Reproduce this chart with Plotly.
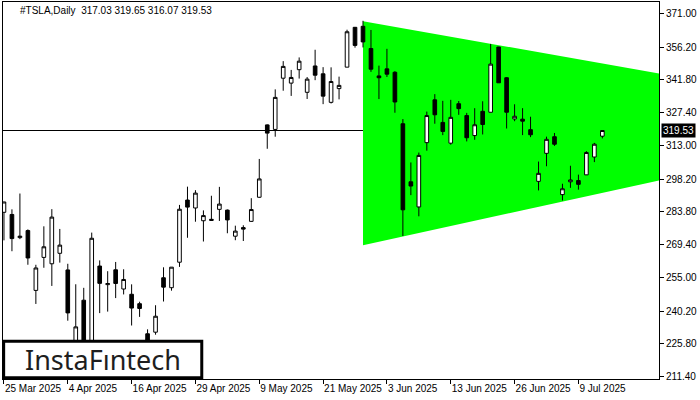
import datetime as dt
import plotly.graph_objects as go

# ---------------- data ----------------
dates = [
    "2025-03-25", "2025-03-26", "2025-03-27", "2025-03-28", "2025-03-31",
    "2025-04-01", "2025-04-02", "2025-04-03", "2025-04-04", "2025-04-07",
    "2025-04-08", "2025-04-09", "2025-04-10", "2025-04-11", "2025-04-14",
    "2025-04-15", "2025-04-16", "2025-04-17", "2025-04-21", "2025-04-22",
    "2025-04-23", "2025-04-24", "2025-04-25", "2025-04-28", "2025-04-29",
    "2025-04-30", "2025-05-01", "2025-05-02", "2025-05-05", "2025-05-06",
    "2025-05-07", "2025-05-08", "2025-05-09", "2025-05-12", "2025-05-13",
    "2025-05-14", "2025-05-15", "2025-05-16", "2025-05-19", "2025-05-20",
    "2025-05-21", "2025-05-22", "2025-05-23", "2025-05-27", "2025-05-28",
    "2025-05-29", "2025-05-30", "2025-06-02", "2025-06-03", "2025-06-04",
    "2025-06-05", "2025-06-06", "2025-06-09", "2025-06-10", "2025-06-11",
    "2025-06-12", "2025-06-13", "2025-06-16", "2025-06-17", "2025-06-18",
    "2025-06-20", "2025-06-23", "2025-06-24", "2025-06-25", "2025-06-26",
    "2025-06-27", "2025-06-30", "2025-07-01", "2025-07-02", "2025-07-03",
    "2025-07-07", "2025-07-08", "2025-07-09", "2025-07-10", "2025-07-11",
    "2025-07-14",
]
opens = [
    283.60, 282.66, 272.48, 275.58, 249.31, 263.80, 261.00, 265.60, 258.30, 223.78,
    245.00, 224.69, 260.00, 251.84, 258.36, 249.91, 247.61, 243.47, 230.26, 230.96,
    254.86, 250.50, 261.69, 288.98, 285.50, 279.90, 280.01, 284.90, 284.57, 273.11,
    276.88, 279.63, 290.21, 321.99, 320.00, 342.50, 340.34, 346.24, 336.30, 347.87,
    344.43, 331.90, 337.92, 347.35, 364.84, 365.29, 355.52, 343.50, 346.60, 345.10,
    322.49, 297.00, 285.96, 314.20, 333.00, 323.08, 313.97, 331.29, 326.09, 317.31,
    327.95, 327.54, 356.17, 342.70, 324.61, 324.51, 319.90, 297.20, 309.50, 316.80,
    291.37, 297.00, 297.55, 300.05, 307.89, 317.03,
]
highs = [
    288.20, 284.90, 291.85, 276.10, 260.56, 277.45, 284.99, 276.30, 261.00, 252.00,
    250.44, 274.69, 262.49, 257.74, 261.80, 258.59, 251.97, 244.34, 232.21, 242.79,
    259.45, 259.54, 286.85, 294.86, 293.32, 284.45, 290.87, 294.78, 284.85, 277.73,
    277.92, 289.80, 307.04, 322.21, 337.59, 350.00, 346.14, 351.62, 343.00, 354.99,
    347.35, 347.27, 343.18, 363.79, 365.00, 367.71, 363.68, 348.02, 355.40, 345.60,
    324.55, 305.50, 309.83, 327.83, 335.50, 332.56, 332.99, 332.47, 327.26, 329.32,
    332.36, 357.54, 356.26, 343.00, 331.05, 329.34, 325.58, 305.89, 316.83, 318.45,
    296.15, 304.05, 300.15, 310.48, 314.09, 319.65,
]
lows = [
    271.28, 266.51, 271.82, 260.57, 243.36, 259.25, 251.27, 261.51, 236.00, 214.25,
    217.80, 223.88, 239.33, 240.00, 245.93, 247.54, 233.89, 237.68, 222.79, 229.85,
    244.43, 249.20, 259.63, 272.42, 279.47, 270.78, 279.81, 279.81, 274.40, 271.35,
    271.00, 279.41, 290.00, 311.50, 316.80, 337.00, 334.72, 342.33, 333.37, 341.63,
    331.10, 331.39, 333.21, 347.32, 355.91, 356.00, 345.29, 333.33, 343.04, 327.33,
    273.21, 291.14, 281.85, 310.67, 322.50, 317.49, 313.30, 326.41, 314.74, 315.45,
    317.78, 327.48, 340.44, 320.40, 323.61, 317.50, 316.60, 293.21, 303.82, 312.76,
    288.77, 294.35, 293.55, 300.00, 305.65, 316.07,
]
closes = [
    288.14, 272.06, 273.13, 263.55, 259.16, 268.46, 281.50, 269.20, 239.43, 233.29,
    221.86, 272.20, 252.40, 252.31, 252.35, 254.11, 241.55, 241.37, 227.50, 237.97,
    250.74, 259.51, 284.95, 285.88, 292.03, 282.16, 280.52, 287.21, 280.26, 275.35,
    276.22, 284.82, 298.26, 318.38, 334.07, 347.68, 342.82, 349.98, 342.09, 343.82,
    334.62, 341.04, 339.34, 362.89, 356.90, 358.43, 346.46, 342.69, 344.27, 332.05,
    284.70, 295.14, 308.58, 326.09, 326.43, 319.11, 325.31, 329.13, 316.35, 322.05,
    322.16, 348.68, 340.47, 327.55, 325.78, 323.63, 317.66, 300.71, 315.65, 313.50,
    293.94, 297.81, 295.88, 309.87, 313.51, 319.53,
]

# symmetrical triangle pattern (bar position, upper edge, lower edge)
triangle_bars = [45, 82.5]
triangle_upper = [367.5, 344.3]
triangle_lower = [269.1, 297.9]

y_ticks = [371.00, 356.20, 341.80, 327.40, 313.00, 298.20, 283.80,
           269.40, 255.00, 240.20, 225.80, 211.40]
x_tick_every = 8

symbol = "#TSLA,Daily"
logo_text = "InstaF\u0131ntech"

FONT = "Liberation Sans, Arial, sans-serif"

# ---------------- figure ----------------
bars = list(range(len(dates)))
last_close = closes[-1]

fig = go.Figure()

fig.add_trace(go.Candlestick(
    x=bars, open=opens, high=highs, low=lows, close=closes,
    increasing=dict(line=dict(color="black", width=1), fillcolor="white"),
    decreasing=dict(line=dict(color="black", width=1), fillcolor="black"),
    whiskerwidth=0, showlegend=False, hoverinfo="skip",
))

# green triangle (below the candles)
tri_path = (f"M {triangle_bars[0]},{triangle_upper[0]} "
            f"L {triangle_bars[1]},{triangle_upper[1]} "
            f"L {triangle_bars[1]},{triangle_lower[1]} "
            f"L {triangle_bars[0]},{triangle_lower[0]} Z")
fig.add_shape(type="path", path=tri_path, xref="x", yref="y",
              fillcolor="#00FF00", line=dict(width=0), layer="below")

# current price line
fig.add_shape(type="line", xref="paper", yref="y", x0=0, x1=1,
              y0=last_close, y1=last_close,
              line=dict(color="black", width=1), layer="below")

tick_idx = list(range(0, len(dates), x_tick_every))
tick_txt = []
for i in tick_idx:
    d = dt.date.fromisoformat(dates[i])
    tick_txt.append(f"{d.day} {d.strftime('%b')} {d.year}")

fig.update_layout(
    width=700, height=400,
    margin=dict(l=3, r=41, t=2, b=21, autoexpand=False),
    paper_bgcolor="white", plot_bgcolor="white",
    showlegend=False,
    boxgap=0.35,
    hovermode=False,
    font=dict(family=FONT, size=10, color="black"),
    xaxis=dict(
        range=[-0.12, 82.1], rangeslider=dict(visible=False),
        showgrid=False, zeroline=False,
        showline=True, linecolor="black", linewidth=1, mirror=True,
        ticks="outside", ticklen=4, tickcolor="black",
        tickvals=tick_idx, ticktext=tick_txt, tickangle=0,
        ticklabelposition="outside right",
        tickfont=dict(size=10), automargin=False,
    ),
    yaxis=dict(
        range=[210.4, 375.96], side="right",
        showgrid=False, zeroline=False,
        showline=True, linecolor="black", linewidth=1, mirror=True,
        ticks="outside", ticklen=4, tickcolor="black",
        tickvals=y_ticks, showticklabels=False, automargin=False,
    ),
)

# y-axis labels
for v in y_ticks:
    fig.add_annotation(
        xref="paper", yref="y", x=1, y=v, xanchor="left", yanchor="middle",
        xshift=5, showarrow=False, text=f"{v:.2f}",
        font=dict(size=10, color="black"),
    )

# title text
fig.add_annotation(
    xref="paper", yref="paper", x=0.023, y=0.977,
    xanchor="left", yanchor="middle", showarrow=False,
    text=f"{symbol}  {opens[-1]:.2f} {highs[-1]:.2f} {lows[-1]:.2f} {closes[-1]:.2f}",
    font=dict(size=10, color="#000000"),
)

# current price label
fig.add_annotation(
    xref="paper", yref="y", x=1, y=last_close,
    xanchor="left", yanchor="middle", showarrow=False, xshift=2,
    text=f"{last_close:.2f}", bgcolor="black", borderpad=1,
    font=dict(size=10, color="white"),
)

# logo box
fig.add_shape(
    type="rect", xref="paper", yref="paper",
    x0=0.001, x1=0.303, y0=0.003, y1=0.100,
    line=dict(color="black", width=3), fillcolor="white", layer="above",
)
fig.add_annotation(
    xref="paper", yref="paper", x=0.152, y=0.052,
    xanchor="center", yanchor="middle", showarrow=False,
    text=logo_text, font=dict(family="Noto Sans, sans-serif", size=27, color="#1e1e1e"),
)

fig.write_html(
    "out.html",
    config={"displayModeBar": False, "staticPlot": True},
    post_script="document.body.style.margin='0';document.body.style.overflow='hidden';",
)
